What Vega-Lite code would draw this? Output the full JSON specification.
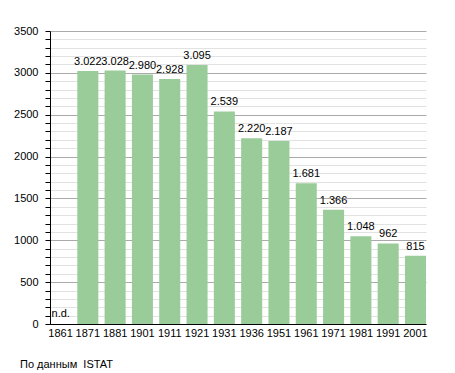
{
  "$schema": "https://vega.github.io/schema/vega-lite/v6.json",
  "width": 376,
  "height": 293,
  "autosize": {"type": "none"},
  "padding": {"left": 50, "top": 31, "right": 29, "bottom": 49},
  "background": "white",
  "config": {
    "view": {"stroke": null},
    "locale": {"number": {"decimal": ",", "thousands": ".", "grouping": [3], "currency": ["", " €"]}},
    "font": "Liberation Sans",
    "axis": {"labelFont": "Liberation Sans", "labelFontSize": 11, "labelColor": "#000", "domainColor": "#000", "tickColor": "#000"}
  },
  "title": {
    "text": "По данным\u00a0 ISTAT",
    "orient": "bottom",
    "anchor": "start",
    "frame": "group",
    "font": "Liberation Sans",
    "fontSize": 11,
    "fontWeight": "normal",
    "color": "#000",
    "dx": -30,
    "offset": 21
  },
  "data": {
    "values": [
      {"year": "1861", "pop": null},
      {"year": "1871", "pop": 3022},
      {"year": "1881", "pop": 3028},
      {"year": "1901", "pop": 2980},
      {"year": "1911", "pop": 2928},
      {"year": "1921", "pop": 3095},
      {"year": "1931", "pop": 2539},
      {"year": "1936", "pop": 2220},
      {"year": "1951", "pop": 2187},
      {"year": "1961", "pop": 1681},
      {"year": "1971", "pop": 1366},
      {"year": "1981", "pop": 1048},
      {"year": "1991", "pop": 962},
      {"year": "2001", "pop": 815}
    ]
  },
  "encoding": {
    "x": {
      "field": "year",
      "type": "nominal",
      "sort": null,
      "scale": {"domain": ["1861","1871","1881","1901","1911","1921","1931","1936","1951","1961","1971","1981","1991","2001"], "paddingInner": 0.23, "paddingOuter": 0},
      "axis": {"title": null, "labelAngle": 0, "ticks": false, "labelPadding": 3, "domainWidth": 1}
    }
  },
  "layer": [
    {
      "mark": {"type": "bar", "color": "#99cc99"},
      "encoding": {
        "y": {
          "field": "pop",
          "type": "quantitative",
          "scale": {"domain": [0, 3500], "nice": false},
          "axis": {
            "title": null,
            "values": [0,100,200,300,400,500,600,700,800,900,1000,1100,1200,1300,1400,1500,1600,1700,1800,1900,2000,2100,2200,2300,2400,2500,2600,2700,2800,2900,3000,3100,3200,3300,3400,3500],
            "tickCount": 40,
            "labelExpr": "datum.value % 500 === 0 ? format(datum.value, 'd') : ''",
            "labelOverlap": false,
            "tickSize": 5,
            "labelPadding": 7,
            "grid": true,
            "gridColor": {"condition": {"test": "datum.value % 500 === 0", "value": "#aaaaaa"}, "value": "#e2e2e2"},
            "gridWidth": 1
          }
        }
      }
    },
    {
      "transform": [{"filter": "datum.pop !== null"}],
      "mark": {"type": "text", "dy": -6, "baseline": "alphabetic", "fontSize": 11, "color": "#000", "font": "Liberation Sans"},
      "encoding": {
        "y": {"field": "pop", "type": "quantitative"},
        "text": {"field": "pop", "type": "quantitative", "format": ",d"}
      }
    },
    {
      "transform": [{"filter": "datum.pop === null"}],
      "mark": {"type": "text", "text": "n.d.", "align": "left", "xOffset": -9, "dy": -7, "baseline": "alphabetic", "fontSize": 11, "color": "#000", "font": "Liberation Sans"},
      "encoding": {
        "y": {"datum": 0, "type": "quantitative"}
      }
    }
  ]
}
